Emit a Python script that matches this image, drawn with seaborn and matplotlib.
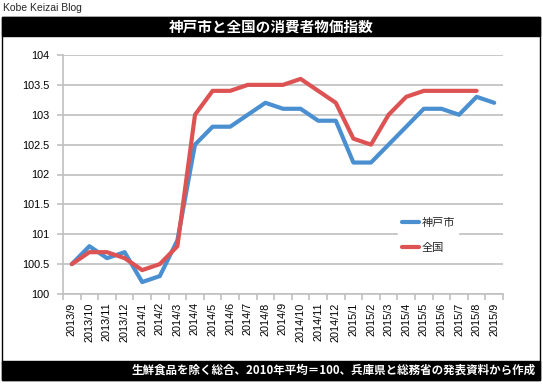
import pandas as pd
import matplotlib.pyplot as plt
import seaborn as sns
from matplotlib.patches import Rectangle
from matplotlib.ticker import FixedLocator

months = ["2013/9", "2013/10", "2013/11", "2013/12", "2014/1", "2014/2", "2014/3",
          "2014/4", "2014/5", "2014/6", "2014/7", "2014/8", "2014/9", "2014/10",
          "2014/11", "2014/12", "2015/1", "2015/2", "2015/3", "2015/4", "2015/5",
          "2015/6", "2015/7", "2015/8", "2015/9"]
kobe = [100.5, 100.8, 100.6, 100.7, 100.2, 100.3, 100.9, 102.5, 102.8, 102.8, 103.0,
        103.2, 103.1, 103.1, 102.9, 102.9, 102.2, 102.2, 102.5, 102.8, 103.1, 103.1,
        103.0, 103.3, 103.2]
zenkoku = [100.5, 100.7, 100.7, 100.6, 100.4, 100.5, 100.8, 103.0, 103.4, 103.4, 103.5,
           103.5, 103.5, 103.6, 103.4, 103.2, 102.6, 102.5, 103.0, 103.3, 103.4, 103.4,
           103.4, 103.4, None]
series_names = ["神戸市", "全国"]
colors = ["#4a8fd0", "#dd5252"]
yticks = [100, 100.5, 101, 101.5, 102, 102.5, 103, 103.5, 104]

title = "神戸市と全国の消費者物価指数"
note = "生鮮食品を除く総合、2010年平均＝100、兵庫県と総務省の発表資料から作成"
blog = "Kobe Keizai Blog"

sns.set_theme(style="white")
plt.rcParams['font.family'] = ['Noto Sans CJK JP', 'DejaVu Sans']

df = pd.DataFrame({"pos": list(range(len(months))) * 2,
                   "value": kobe + zenkoku,
                   "series": [series_names[0]] * len(months) + [series_names[1]] * len(months)})
df = df.dropna()

fig = plt.figure(figsize=(5.43, 3.91), dpi=100)
ax = fig.add_axes([63 / 543, 1 - 294 / 391, 440 / 543, 239 / 391])

sns.lineplot(data=df, x="pos", y="value", hue="series", palette=colors,
             linewidth=3, ax=ax, legend=False)

ax.set_xlim(-0.5, len(months) - 0.5)
ax.set_ylim(100, 104)
ax.set_yticks(yticks)
ax.set_yticklabels([f"{v:g}" for v in yticks], family="Liberation Sans", fontsize=7.8, color="black")
ax.xaxis.set_major_locator(FixedLocator(range(len(months))))
ax.set_xticklabels(months, rotation=90, family="Liberation Sans", fontsize=7.8, color="black")
ax.xaxis.set_minor_locator(FixedLocator([i - 0.5 for i in range(len(months) + 1)]))
ax.tick_params(axis="x", which="major", length=0, pad=6)
ax.tick_params(axis="x", which="minor", length=4, width=1.2, color="#c0c0c0", bottom=True)
ax.tick_params(axis="y", length=4, width=1.2, color="#c0c0c0", left=True, pad=6)
ax.set_xlabel("")
ax.set_ylabel("")
ax.grid(axis="y", color="#c8c8c8", linewidth=1.4)
for side in ["top", "right"]:
    ax.spines[side].set_visible(False)
for side in ["left", "bottom"]:
    ax.spines[side].set_color("#c0c0c0")
    ax.spines[side].set_linewidth(1.2)

handles = [plt.Line2D([], [], color=c, linewidth=3) for c in colors]
leg = ax.legend(handles, series_names, loc="center", bbox_to_anchor=(0.83, 0.245),
                frameon=True, fontsize=8, handlelength=1.6, handletextpad=0.2,
                labelspacing=1.3, borderpad=0.3)
leg.get_frame().set_facecolor("white")
leg.get_frame().set_edgecolor("white")
leg.get_frame().set_alpha(1)

# frame and bars
fig.patches.append(Rectangle((1.5 / 543, 1 - 380 / 391), 538.5 / 543, 363 / 391,
                             transform=fig.transFigure, fill=False, edgecolor="black", linewidth=1))
fig.patches.append(Rectangle((1.5 / 543, 1 - 36 / 391), 538.5 / 543, 19 / 391,
                             transform=fig.transFigure, facecolor="black", edgecolor="black"))
fig.patches.append(Rectangle((1.5 / 543, 1 - 380 / 391), 538.5 / 543, 19 / 391,
                             transform=fig.transFigure, facecolor="black", edgecolor="black"))

fig.text(3 / 543, 1 - 8 / 391, blog, family="Liberation Sans", fontsize=7.5, va="center", ha="left")
fig.text(271 / 543, 1 - 26.5 / 391, title, color="white", fontsize=10.5, fontweight="bold",
         va="center", ha="center")
fig.text(536 / 543, 1 - 370.5 / 391, note, color="white", fontsize=8.3, fontweight="bold",
         va="center", ha="right")

fig.savefig("out.png", dpi=100)
